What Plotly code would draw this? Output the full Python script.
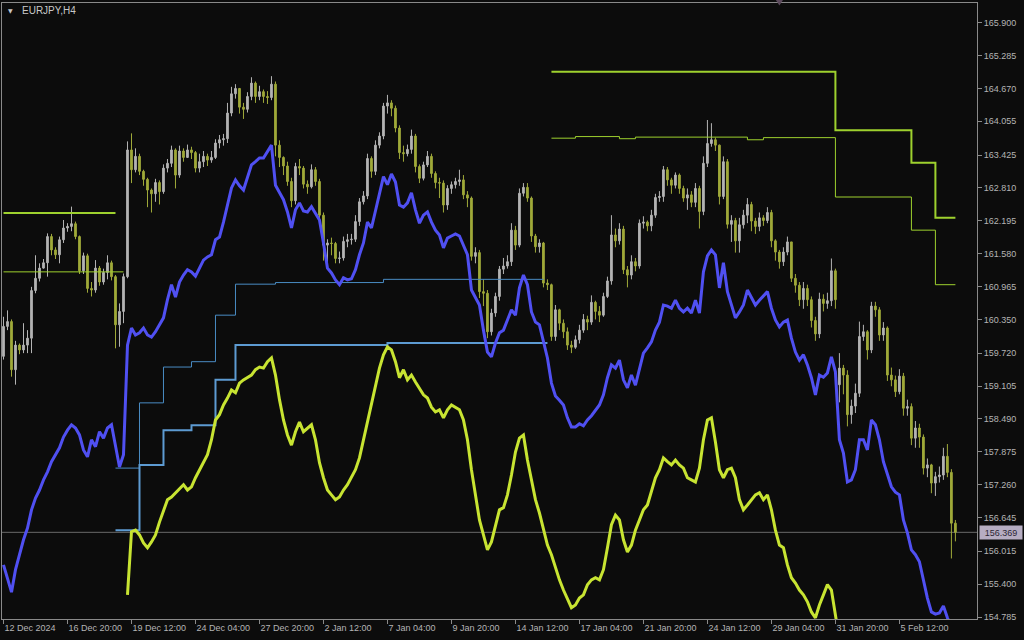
import plotly.graph_objects as go

# ---------------- data ----------------
x_tick_bars = [0, 16, 32, 48, 64, 80, 96, 112, 128, 144, 160, 176, 192, 208, 224]
x_tick_text = ["12 Dec 2024", "16 Dec 20:00", "19 Dec 12:00", "24 Dec 04:00", "27 Dec 20:00",
               "2 Jan 12:00", "7 Jan 04:00", "9 Jan 20:00", "14 Jan 12:00", "17 Jan 04:00",
               "21 Jan 20:00", "24 Jan 12:00", "29 Jan 04:00", "31 Jan 20:00", "5 Feb 12:00"]

y_tick_vals = [165.900, 165.285, 164.670, 164.055, 163.425, 162.810, 162.195, 161.580, 160.965,
               160.350, 159.720, 159.105, 158.490, 157.875, 157.260, 156.645, 156.015, 155.400, 154.785]

first_open = 159.66
gap_opens = {209: 159.13}

close = [
    160.22, 160.31, 159.41, 159.87, 159.78, 159.87, 160.00, 160.89, 161.12, 161.31,
    161.41, 161.90, 161.65, 161.56, 161.84, 162.06, 162.09, 162.14, 161.90, 161.26,
    161.54, 160.93, 160.90, 161.31, 161.05, 161.23, 161.41, 161.15, 160.25, 160.50,
    161.15, 163.52, 163.15, 163.40, 163.12, 162.97, 162.77, 162.70, 162.91, 162.74,
    163.18, 163.27, 163.52, 163.05, 163.50, 163.38, 163.52, 163.47, 163.18, 163.30,
    163.40, 163.33, 163.38, 163.65, 163.71, 163.73, 164.21, 164.57, 164.67, 164.32,
    164.28, 164.52, 164.77, 164.52, 164.61, 164.52, 164.50, 164.75, 163.61, 163.38,
    163.22, 162.93, 162.57, 163.21, 163.18, 162.88, 162.83, 163.15, 162.93, 162.30,
    161.74, 161.78, 161.77, 161.49, 161.50, 161.81, 161.84, 161.85, 162.18, 162.55,
    162.66, 163.36, 163.12, 163.61, 163.78, 164.34, 164.40, 164.30, 163.93, 163.47,
    163.45, 163.53, 163.78, 163.21, 162.99, 163.24, 163.40, 163.08, 162.91, 162.90,
    162.49, 162.80, 162.87, 162.93, 162.96, 162.68, 162.62, 161.53, 161.60, 160.87,
    160.84, 160.12, 160.47, 160.78, 161.29, 161.35, 161.43, 162.02, 161.74, 162.71,
    162.82, 162.62, 161.91, 161.71, 161.78, 161.03, 161.00, 160.03, 160.53, 160.28,
    160.12, 159.87, 159.83, 159.97, 160.15, 160.35, 160.30, 160.67, 160.50, 160.43,
    160.78, 161.07, 161.93, 161.82, 162.04, 161.28, 161.18, 161.43, 161.35, 162.15,
    162.17, 162.10, 162.30, 162.63, 162.65, 163.15, 162.96, 162.86, 163.05, 162.80,
    162.62, 162.68, 162.54, 162.80, 162.37, 163.27, 163.64, 163.71, 163.61, 162.65,
    163.30, 162.13, 162.20, 161.82, 162.12, 162.30, 162.50, 162.19, 162.09, 162.25,
    162.20, 162.35, 161.82, 161.61, 161.43, 161.61, 161.80, 161.12, 160.99, 160.72,
    160.93, 160.72, 160.33, 160.08, 160.73, 160.65, 160.70, 161.26, 160.72, 159.44,
    159.31, 158.57, 158.73, 158.97, 160.03, 160.12, 159.78, 160.60, 160.53, 160.06,
    160.19, 159.31, 159.22, 159.00, 159.29, 158.69, 158.72, 158.13, 158.32, 158.15,
    157.57, 157.63, 157.29, 157.41, 157.44, 157.79, 157.49, 156.54, 156.369]

high = [
    160.40, 160.52, 160.35, 159.95, 159.90, 160.28, 160.15, 160.96, 161.55, 161.40,
    161.48, 161.96, 161.95, 161.70, 161.90, 162.21, 162.15, 162.46, 162.18, 161.92,
    161.60, 161.58, 161.05, 161.46, 161.35, 161.30, 161.55, 161.45, 161.18, 160.65,
    161.21, 163.68, 163.83, 163.55, 163.45, 163.15, 163.00, 162.80, 162.98, 162.95,
    163.25, 163.35, 163.60, 163.55, 163.60, 163.55, 163.62, 163.58, 163.50, 163.45,
    163.50, 163.45, 163.50, 163.72, 163.80, 163.82, 164.40, 164.70, 164.75, 164.62,
    164.40, 164.60, 164.88, 164.80, 164.72, 164.65, 164.62, 164.90, 164.80, 163.70,
    163.40, 163.30, 163.00, 163.28, 163.35, 163.22, 162.95, 163.25, 163.20, 162.98,
    162.35, 161.85, 161.88, 161.80, 161.62, 161.90, 161.95, 161.95, 162.30, 162.62,
    162.75, 163.45, 163.40, 163.70, 163.85, 164.40, 164.55, 164.45, 164.35, 163.98,
    163.60, 163.62, 163.90, 163.82, 163.25, 163.30, 163.50, 163.45, 163.12, 163.00,
    162.95, 162.86, 162.93, 163.00, 163.15, 163.05, 162.75, 162.65, 161.70, 161.65,
    161.10, 160.90, 160.55, 160.85, 161.35, 161.50, 161.55, 162.15, 162.10, 162.80,
    162.90, 162.90, 162.65, 161.95, 161.85, 161.80, 161.10, 161.02, 160.62, 160.55,
    160.35, 160.20, 159.95, 160.05, 160.25, 160.45, 160.42, 160.80, 160.70, 160.60,
    160.85, 161.15, 162.30, 162.05, 162.15, 162.10, 161.35, 161.55, 161.50, 162.22,
    162.28, 162.20, 162.40, 162.70, 162.75, 163.22, 163.20, 163.00, 163.10, 163.08,
    162.85, 162.80, 162.75, 162.90, 162.85, 163.40, 164.08, 164.02, 163.75, 163.62,
    163.40, 163.35, 162.30, 162.25, 162.25, 162.40, 162.62, 162.55, 162.25, 162.35,
    162.30, 162.45, 162.40, 161.85, 161.65, 161.70, 161.90, 161.80, 161.20, 161.05,
    161.05, 161.00, 160.78, 160.40, 160.85, 160.82, 160.85, 161.49, 161.30, 159.72,
    159.50, 159.40, 158.85, 159.15, 160.31, 160.25, 160.15, 160.68, 160.68, 160.58,
    160.30, 160.22, 159.45, 159.30, 159.42, 159.35, 158.85, 158.78, 158.45, 158.40,
    158.20, 157.75, 157.65, 157.50, 157.60, 157.95, 158.02, 157.55, 156.60]

low = [
    159.60, 160.15, 159.28, 159.13, 159.70, 159.72, 159.72, 159.72, 160.84, 161.06,
    161.30, 161.15, 161.55, 161.48, 161.40, 161.78, 161.99, 162.00, 161.85, 161.20,
    161.20, 160.85, 160.78, 160.85, 160.98, 161.00, 161.10, 161.08, 159.81, 159.84,
    160.28, 161.12, 162.90, 163.10, 163.05, 162.85, 162.45, 162.35, 162.55, 162.50,
    162.70, 163.10, 163.20, 162.80, 163.00, 163.30, 163.40, 163.35, 163.10, 163.10,
    163.20, 163.22, 163.28, 163.35, 163.55, 163.60, 163.65, 164.15, 164.48, 164.20,
    164.10, 164.22, 164.45, 164.40, 164.45, 164.40, 164.38, 164.45, 163.40, 163.20,
    163.05, 162.85, 162.45, 162.50, 163.05, 162.80, 162.70, 162.80, 162.85, 162.20,
    161.45, 161.40, 161.55, 161.40, 161.40, 161.45, 161.70, 161.75, 161.80, 162.10,
    162.50, 162.60, 163.00, 163.05, 163.55, 163.72, 164.20, 164.15, 163.85, 163.35,
    163.30, 163.40, 163.45, 163.10, 162.90, 162.95, 163.20, 163.00, 162.80, 162.62,
    162.35, 162.40, 162.70, 162.80, 162.85, 162.60, 162.45, 161.45, 161.40, 160.75,
    160.60, 160.00, 160.05, 160.40, 160.70, 161.20, 161.30, 161.35, 161.65, 161.70,
    162.65, 162.55, 161.80, 161.60, 161.60, 160.95, 160.90, 159.95, 159.95, 160.15,
    160.00, 159.78, 159.72, 159.80, 159.90, 160.10, 160.15, 160.25, 160.35, 160.30,
    160.40, 160.75, 161.00, 161.70, 161.75, 161.20, 160.95, 161.10, 161.25, 161.30,
    162.05, 162.00, 162.00, 162.25, 162.55, 162.55, 162.85, 162.70, 162.80, 162.70,
    162.55, 162.40, 162.45, 162.45, 162.05, 162.30, 163.20, 163.58, 163.50, 162.50,
    162.60, 162.05, 161.80, 161.60, 161.60, 162.05, 162.15, 162.00, 161.95, 162.00,
    162.10, 162.15, 161.70, 161.45, 161.30, 161.35, 161.55, 161.05, 160.85, 160.60,
    160.55, 160.60, 160.20, 159.95, 160.00, 160.50, 160.55, 160.60, 160.55, 158.80,
    158.95, 158.35, 158.40, 158.60, 158.90, 159.95, 159.60, 159.72, 160.40, 159.95,
    159.95, 159.20, 159.10, 158.90, 158.95, 158.55, 158.55, 158.00, 157.95, 157.95,
    157.45, 157.40, 157.10, 157.05, 157.30, 157.35, 157.40, 155.88, 156.20]

blue_line = [
    155.76, 155.52, 155.25, 155.67, 155.95, 156.23, 156.45, 156.79, 157.01, 157.16,
    157.35, 157.50, 157.69, 157.82, 157.95, 158.15, 158.28, 158.38, 158.32, 158.19,
    157.91, 157.78, 158.10, 157.97, 158.25, 158.13, 158.32, 158.38, 157.95, 157.59,
    157.82, 159.87, 160.19, 160.06, 160.10, 160.19, 160.06, 160.02, 160.12, 160.25,
    160.38, 160.72, 161.00, 160.77, 161.05, 161.18, 161.28, 161.24, 161.16, 161.31,
    161.46, 161.52, 161.56, 161.84, 161.89, 162.17, 162.49, 162.81, 162.96, 162.85,
    162.77, 163.00, 163.24, 163.30, 163.37, 163.37, 163.48, 163.61, 162.86, 162.72,
    162.59, 162.36, 162.06, 162.40, 162.53, 162.38, 162.36, 162.46, 162.34, 162.21,
    161.78, 161.31, 161.22, 161.09, 161.00, 161.13, 161.09, 161.11, 161.28, 161.56,
    161.78, 162.17, 162.06, 162.40, 162.68, 163.02, 162.87, 163.07, 162.92, 162.49,
    162.45, 162.53, 162.72, 162.40, 162.15, 162.30, 162.36, 162.17, 162.02, 161.93,
    161.69, 161.87, 161.91, 161.95, 161.91, 161.74, 161.56, 160.90, 160.75, 160.62,
    160.15, 159.74, 159.65, 159.91, 160.10, 160.15, 160.34, 160.53, 160.43, 160.94,
    161.18, 161.00, 160.49, 160.30, 160.25, 159.93, 159.63, 159.16, 158.92, 158.84,
    158.75, 158.51, 158.34, 158.34, 158.40, 158.36, 158.47, 158.55, 158.66, 158.75,
    158.94, 159.26, 159.50, 159.44, 159.59, 159.22, 159.07, 159.31, 159.12, 159.40,
    159.72, 159.82, 159.93, 160.15, 160.30, 160.62, 160.60, 160.56, 160.71, 160.56,
    160.49, 160.56, 160.47, 160.71, 160.47, 161.24, 161.54, 161.65, 161.56, 160.94,
    161.41, 160.87, 160.60, 160.38, 160.49, 160.62, 160.90, 160.75, 160.62, 160.71,
    160.79, 160.87, 160.56, 160.34, 160.21, 160.30, 160.34, 160.00, 159.74, 159.59,
    159.69, 159.50, 159.26, 158.94, 159.31, 159.27, 159.35, 159.65, 159.37, 158.10,
    157.85, 157.31, 157.35, 157.54, 158.10, 158.10, 157.91, 158.47, 158.38, 158.10,
    157.69, 157.44, 157.22, 157.12, 157.07, 156.60, 156.36, 156.04, 155.95, 155.82,
    155.48, 155.14, 154.88, 154.84, 154.86, 154.99, 154.77, 154.60]
blue_start = 0

yellow_line = [
    155.20, 156.38, 156.41, 156.32, 156.17, 156.08, 156.19, 156.32, 156.56, 156.79,
    156.98, 157.03, 157.11, 157.20, 157.26, 157.16, 157.22, 157.39, 157.54, 157.67,
    157.82, 158.10, 158.47, 158.57, 158.75, 158.88, 159.03, 158.98, 159.16, 159.22,
    159.26, 159.31, 159.41, 159.46, 159.44, 159.56, 159.63, 159.31, 158.85, 158.47,
    158.19, 158.00, 158.25, 158.43, 158.25, 158.32, 158.38, 158.10, 157.67, 157.39,
    157.16, 157.07, 156.98, 157.03, 157.16, 157.26, 157.39, 157.54, 157.76, 158.10,
    158.47, 158.79, 159.13, 159.44, 159.69, 159.84, 159.78, 159.56, 159.26, 159.41,
    159.22, 159.31, 159.18, 159.07, 158.94, 158.88, 158.71, 158.62, 158.66, 158.51,
    158.66, 158.75, 158.71, 158.66, 158.47, 158.10, 157.54, 157.07, 156.60, 156.32,
    156.04, 156.19, 156.51, 156.79, 156.83, 157.07, 157.44, 157.87, 158.13, 158.19,
    157.72, 157.35, 156.98, 156.73, 156.41, 156.13, 155.95, 155.70, 155.48, 155.29,
    155.11, 154.96, 155.01, 155.14, 155.20, 155.39, 155.48, 155.52, 155.48, 155.67,
    156.08, 156.51, 156.69, 156.60, 156.23, 156.00, 156.13, 156.41, 156.60, 156.79,
    156.88, 157.16, 157.39, 157.54, 157.76, 157.69, 157.63, 157.72, 157.63, 157.57,
    157.39, 157.35, 157.31, 157.57, 158.10, 158.47, 158.51, 158.06, 157.54, 157.39,
    157.54, 157.57, 157.39, 156.98, 156.79, 156.88, 156.98, 157.07, 157.11, 156.98,
    157.07, 156.79, 156.41, 156.13, 156.08, 155.76, 155.52, 155.42, 155.29, 155.20,
    155.07, 154.88, 154.77, 155.01, 155.20, 155.39, 155.29, 154.83, 154.36]
yellow_start = 31

# step levels (bar index, price) – drawn as horizontal-then-vertical steps
green_thick_left_x = [0, 28]
green_thick_left_y = [162.34, 162.34]
green_thin_left_x = [0, 30]
green_thin_left_y = [161.24, 161.24]
green_thick_right_x = [137, 208, 227, 233, 238]
green_thick_right_y = [164.98, 163.89, 163.28, 162.25, 162.25]
green_thin_right_x = [137, 143, 154, 158, 186, 190, 208, 227, 233, 238]
green_thin_right_y = [163.74, 163.77, 163.73, 163.76, 163.71, 163.75, 162.64, 162.02, 161.00, 161.00]
steel_upper_x = [28, 34, 40, 47, 53, 58, 68, 95, 135]
steel_upper_y = [157.57, 158.79, 159.46, 159.56, 160.43, 161.01, 161.04, 161.10, 161.10]
steel_lower_x = [28, 34, 40, 47, 53, 58, 96, 136]
steel_lower_y = [156.41, 157.63, 158.28, 158.37, 159.22, 159.87, 159.91, 159.91]

bid_price = 156.369
symbol_title = "EURJPY,H4"
shift_marker_bar = 194

# ---------------- figure ----------------
bars = list(range(len(close)))
open_ = [first_open] + close[:-1]
for k, v in gap_opens.items():
    open_[k] = v

BG = "#0c0c0c"
FRAME = "#8a8a8a"
TXT = "#b4b4b4"
FONT = "Liberation Sans"

fig = go.Figure()

fig.add_trace(go.Candlestick(
    x=bars, open=open_, high=high, low=low, close=close,
    increasing=dict(line=dict(color="#b4b4b4", width=1), fillcolor="#b4b4b4"),
    decreasing=dict(line=dict(color="#a0aa3a", width=1), fillcolor="#a0aa3a"),
    whiskerwidth=0, hoverinfo="skip", showlegend=False))

def step(xs, ys, color, width):
    fig.add_trace(go.Scatter(x=xs, y=ys, mode="lines", line=dict(color=color, width=width, shape="hv"),
                             hoverinfo="skip", showlegend=False))

step(green_thick_left_x, green_thick_left_y, "#9ed12e", 2)
step(green_thin_left_x, green_thin_left_y, "#9ed12e", 1)
step(green_thick_right_x, green_thick_right_y, "#9ed12e", 2)
step(green_thin_right_x, green_thin_right_y, "#9ed12e", 1)
step(steel_upper_x, steel_upper_y, "#4a8cc4", 1)
step(steel_lower_x, steel_lower_y, "#5d9bd2", 2)

fig.add_trace(go.Scatter(x=list(range(blue_start, blue_start + len(blue_line))), y=blue_line,
                         mode="lines", line=dict(color="#5050f2", width=3),
                         hoverinfo="skip", showlegend=False))
fig.add_trace(go.Scatter(x=list(range(yellow_start, yellow_start + len(yellow_line))), y=yellow_line,
                         mode="lines", line=dict(color="#c8e432", width=3),
                         hoverinfo="skip", showlegend=False))

# bid line
fig.add_shape(type="line", xref="paper", yref="y", x0=0, x1=1, y0=bid_price, y1=bid_price,
              line=dict(color="#6a6a6a", width=1), layer="below")
# small "chart shift" marker at the top edge
fig.add_shape(type="path", xref="x", yref="paper",
              path=f"M {shift_marker_bar - 1},1.006 L {shift_marker_bar + 1},1.006 L {shift_marker_bar},0.996 Z",
              fillcolor="#5c4a5c", line=dict(width=0))

fig.update_layout(
    width=1024, height=640,
    margin=dict(l=2, r=47, t=3, b=21, autoexpand=False),
    paper_bgcolor=BG, plot_bgcolor=BG,
    font=dict(family=FONT, size=9, color=TXT),
    boxgap=0.4,
    showlegend=False,
    hovermode=False,
    xaxis=dict(
        range=[-0.375, 243.4], rangeslider=dict(visible=False),
        tickmode="array", tickvals=x_tick_bars, ticktext=x_tick_text,
        ticks="outside", ticklen=4, tickcolor=FRAME, ticklabelposition="outside right",
        showgrid=False, zeroline=False, showline=True, linecolor=FRAME, linewidth=1, mirror=True,
        tickfont=dict(family=FONT, size=9, color=TXT)),
    yaxis=dict(
        side="right", range=[154.748, 166.268],
        tickmode="array", tickvals=y_tick_vals, ticktext=[f"{v:.3f}" for v in y_tick_vals],
        ticks="outside", ticklen=4, tickcolor=FRAME,
        showgrid=False, zeroline=False, showline=True, linecolor=FRAME, linewidth=1, mirror=True,
        tickfont=dict(family=FONT, size=9, color=TXT)),
)

fig.add_annotation(xref="paper", yref="paper", x=0, y=1, xanchor="left", yanchor="middle",
                   xshift=4, yshift=-7, text="▼", showarrow=False,
                   font=dict(family="DejaVu Sans", size=6, color="#c8c8c8"))
fig.add_annotation(xref="paper", yref="paper", x=0, y=1, xanchor="left", yanchor="middle",
                   xshift=18, yshift=-7, text=symbol_title, showarrow=False,
                   font=dict(family=FONT, size=10, color="#c8c8c8"))
fig.add_annotation(xref="paper", yref="y", x=1, y=bid_price, xanchor="left", yanchor="middle",
                   xshift=2, text=f"{bid_price:.3f}", showarrow=False, width=40, height=11,
                   bgcolor="#b6adc2", borderpad=1,
                   font=dict(family=FONT, size=9, color="#2c2634"))

fig.write_html("out.html",
               config={"displayModeBar": False},
               post_script="document.body.style.margin='0px';document.body.style.padding='0px';"
                           "document.body.style.background='#0c0c0c';")
